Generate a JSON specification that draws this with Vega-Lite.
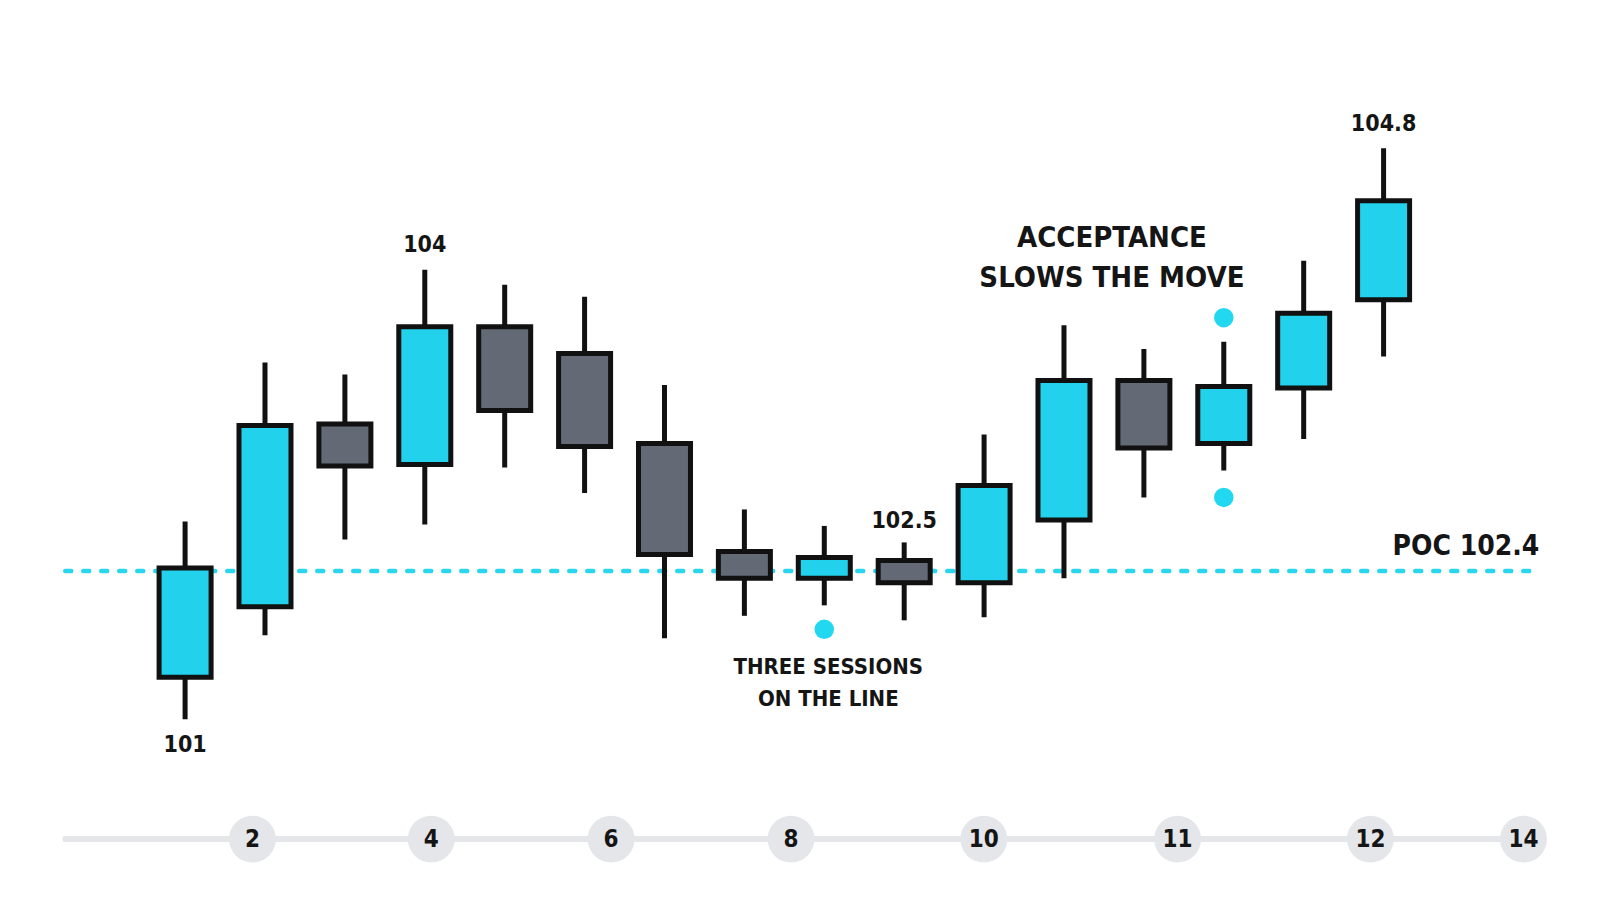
{
  "$schema": "https://vega.github.io/schema/vega-lite/v6.json",
  "description": "Candlestick sessions around a POC of 102.4, with annotations.",
  "width": 1600,
  "height": 914,
  "autosize": {"type": "fit", "contains": "padding"},
  "padding": 0,
  "background": "white",
  "config": {"view": {"stroke": null}, "text": {"font": "DejaVu Sans Condensed, DejaVu Sans, sans-serif", "fontWeight": "bold", "color": "#151515", "baseline": "middle"}},
  "datasets": {
    "candles": [
      {"session": 1, "open": 101.28, "high": 102.32, "low": 101.0, "close": 102.01, "dir": "up"},
      {"session": 2, "open": 101.75, "high": 103.38, "low": 101.56, "close": 102.96, "dir": "up"},
      {"session": 3, "open": 102.97, "high": 103.3, "low": 102.2, "close": 102.69, "dir": "down"},
      {"session": 4, "open": 102.7, "high": 104.0, "low": 102.3, "close": 103.62, "dir": "up"},
      {"session": 5, "open": 103.62, "high": 103.9, "low": 102.68, "close": 103.06, "dir": "down"},
      {"session": 6, "open": 103.44, "high": 103.82, "low": 102.51, "close": 102.82, "dir": "down"},
      {"session": 7, "open": 102.84, "high": 103.23, "low": 101.54, "close": 102.1, "dir": "down"},
      {"session": 8, "open": 102.12, "high": 102.4, "low": 101.69, "close": 101.94, "dir": "down"},
      {"session": 9, "open": 101.94, "high": 102.29, "low": 101.76, "close": 102.08, "dir": "up"},
      {"session": 10, "open": 102.06, "high": 102.18, "low": 101.66, "close": 101.91, "dir": "down"},
      {"session": 11, "open": 101.91, "high": 102.9, "low": 101.68, "close": 102.56, "dir": "up"},
      {"session": 12, "open": 102.33, "high": 103.63, "low": 101.94, "close": 103.26, "dir": "up"},
      {"session": 13, "open": 103.26, "high": 103.47, "low": 102.48, "close": 102.81, "dir": "down"},
      {"session": 14, "open": 102.84, "high": 103.52, "low": 102.66, "close": 103.22, "dir": "up"},
      {"session": 15, "open": 103.21, "high": 104.06, "low": 102.87, "close": 103.71, "dir": "up"},
      {"session": 16, "open": 103.8, "high": 104.81, "low": 103.42, "close": 104.46, "dir": "up"}
    ],
    "ticks": [
      {"pos": 1.843, "label": "2"},
      {"pos": 4.081, "label": "4"},
      {"pos": 6.332, "label": "6"},
      {"pos": 8.584, "label": "8"},
      {"pos": 10.997, "label": "10"},
      {"pos": 13.422, "label": "11"},
      {"pos": 15.835, "label": "12"},
      {"pos": 17.751, "label": "14"}
    ],
    "values": [
      {"session": 1, "price": 100.83, "label": "101"},
      {"session": 4, "price": 104.165, "label": "104"},
      {"session": 10, "price": 102.32, "label": "102.5"},
      {"session": 16, "price": 104.97, "label": "104.8"}
    ],
    "dots": [
      {"session": 9, "price": 101.6},
      {"session": 14, "price": 103.68},
      {"session": 14, "price": 102.48}
    ]
  },
  "layer": [
    {
      "data": {"values": [{"start": -0.5, "end": 17.75, "price": 100.2}]},
      "mark": {"type": "rule", "color": "#E4E6EA", "strokeWidth": 6, "strokeCap": "round"},
      "encoding": {
        "x": {"field": "start", "type": "quantitative", "scale": {"domain": [-1.254, 18.646], "nice": false, "zero": false}, "axis": null},
        "x2": {"field": "end"},
        "y": {"field": "price", "type": "quantitative", "scale": {"domain": [99.7, 105.8], "nice": false, "zero": false}, "axis": null}
      }
    },
    {
      "data": {"name": "ticks"},
      "transform": [{"calculate": "100.2", "as": "price"}],
      "mark": {"type": "circle", "color": "#E4E6EA", "opacity": 1, "size": 2200},
      "encoding": {
        "x": {"field": "pos", "type": "quantitative"},
        "y": {"field": "price", "type": "quantitative"}
      }
    },
    {
      "data": {"name": "ticks"},
      "transform": [{"calculate": "100.2", "as": "price"}],
      "mark": {"type": "text", "fontSize": 24, "dy": 1},
      "encoding": {
        "x": {"field": "pos", "type": "quantitative"},
        "y": {"field": "price", "type": "quantitative"},
        "text": {"field": "label"}
      }
    },
    {
      "data": {"values": [{"start": -0.5, "end": 17.86, "price": 101.99}]},
      "mark": {"type": "rule", "color": "#2AD6EE", "strokeWidth": 4.5, "strokeDash": [6, 12], "strokeCap": "round"},
      "encoding": {
        "x": {"field": "start", "type": "quantitative"},
        "x2": {"field": "end"},
        "y": {"field": "price", "type": "quantitative"}
      }
    },
    {
      "data": {"name": "candles"},
      "mark": {"type": "rule", "color": "#111111", "strokeWidth": 5},
      "encoding": {
        "x": {"field": "session", "type": "quantitative"},
        "y": {"field": "low", "type": "quantitative"},
        "y2": {"field": "high"}
      }
    },
    {
      "data": {"name": "candles"},
      "mark": {"type": "bar", "width": 52, "stroke": "#111111", "strokeWidth": 5},
      "encoding": {
        "x": {"field": "session", "type": "quantitative"},
        "y": {"field": "open", "type": "quantitative"},
        "y2": {"field": "close"},
        "color": {"field": "dir", "type": "nominal", "scale": {"domain": ["up", "down"], "range": ["#22D1EB", "#636A76"]}, "legend": null}
      }
    },
    {
      "data": {"name": "dots"},
      "mark": {"type": "circle", "color": "#22D8F0", "opacity": 1, "size": 380},
      "encoding": {
        "x": {"field": "session", "type": "quantitative"},
        "y": {"field": "price", "type": "quantitative"}
      }
    },
    {
      "data": {"name": "values"},
      "mark": {"type": "text", "fontSize": 23},
      "encoding": {
        "x": {"field": "session", "type": "quantitative"},
        "y": {"field": "price", "type": "quantitative"},
        "text": {"field": "label"}
      }
    },
    {
      "data": {"values": [{"session": 12.6, "price": 104.21, "label": "ACCEPTANCE\nSLOWS THE MOVE"}]},
      "mark": {"type": "text", "align": "center", "lineBreak": "\n", "fontSize": 29, "lineHeight": 40},
      "encoding": {
        "x": {"field": "session", "type": "quantitative"},
        "y": {"field": "price", "type": "quantitative"},
        "text": {"field": "label"}
      }
    },
    {
      "data": {"values": [{"session": 9.05, "price": 101.35, "label": "THREE SESSIONS\nON THE LINE"}]},
      "mark": {"type": "text", "align": "center", "lineBreak": "\n", "fontSize": 22, "lineHeight": 32},
      "encoding": {
        "x": {"field": "session", "type": "quantitative"},
        "y": {"field": "price", "type": "quantitative"},
        "text": {"field": "label"}
      }
    },
    {
      "data": {"values": [{"session": 17.95, "price": 102.15, "label": "POC 102.4"}]},
      "mark": {"type": "text", "fontSize": 28, "align": "right"},
      "encoding": {
        "x": {"field": "session", "type": "quantitative"},
        "y": {"field": "price", "type": "quantitative"},
        "text": {"field": "label"}
      }
    }
  ]
}
